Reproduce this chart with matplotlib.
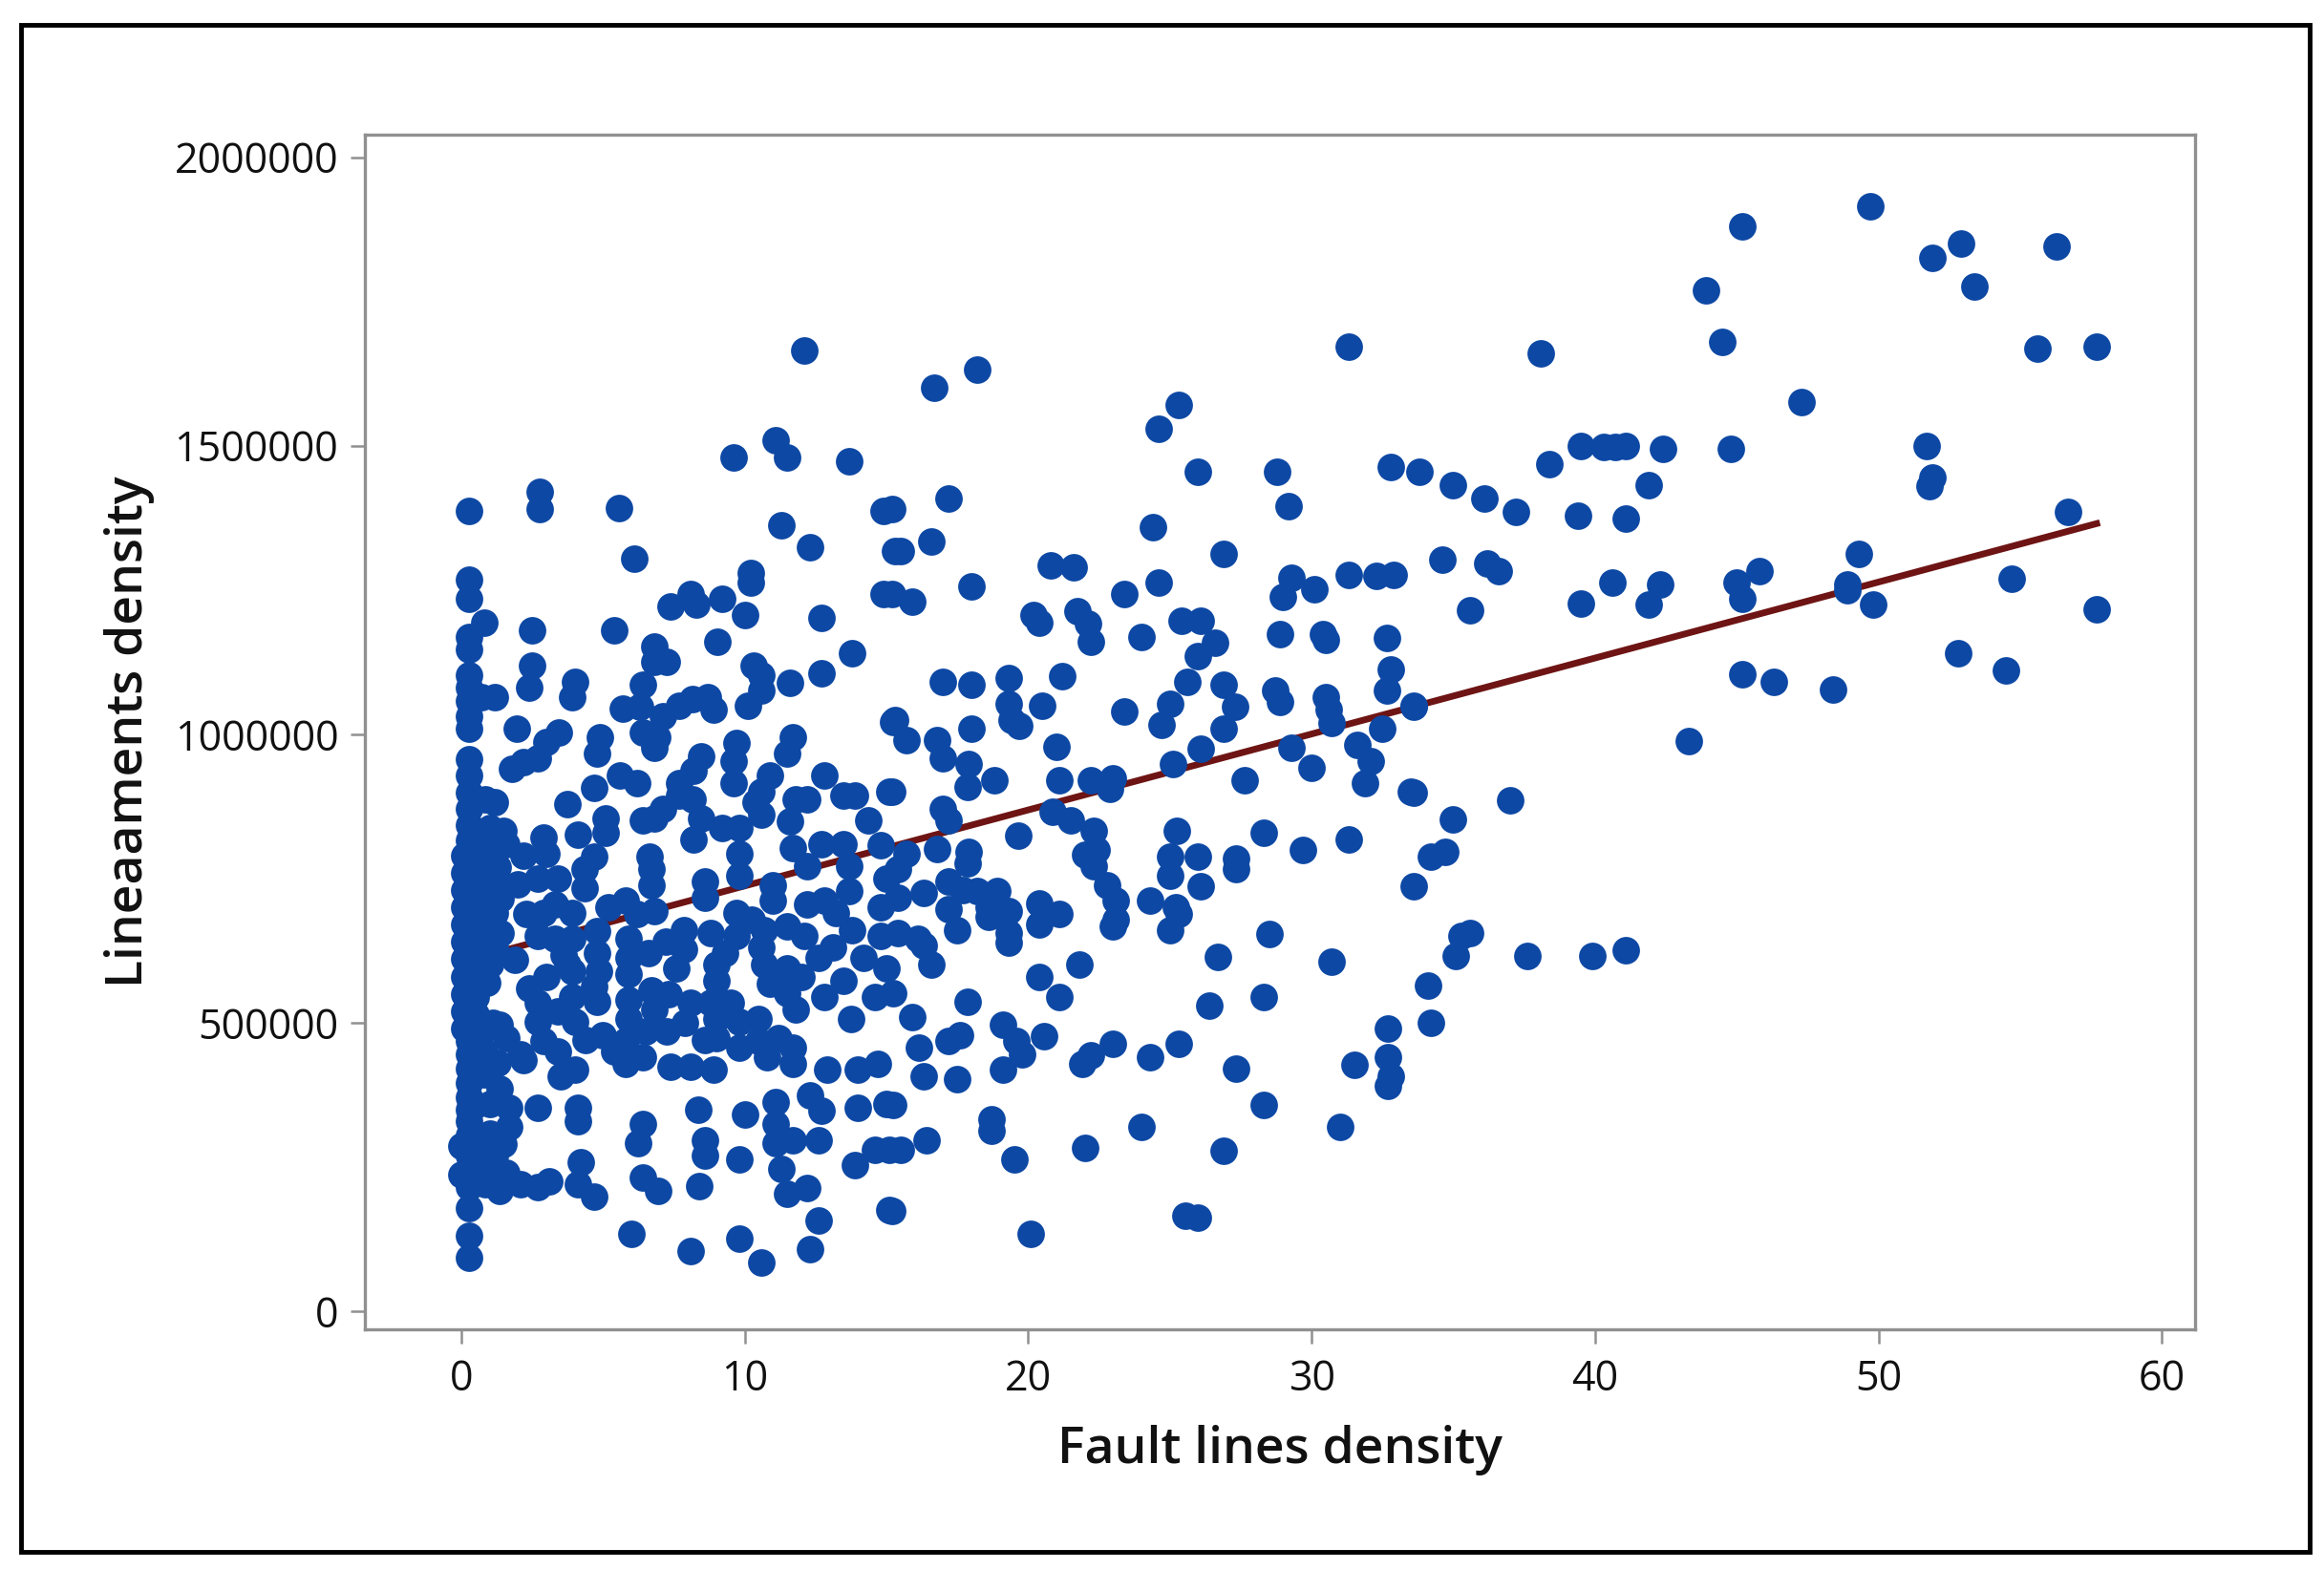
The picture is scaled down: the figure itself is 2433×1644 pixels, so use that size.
import matplotlib
matplotlib.use('Agg')
import matplotlib.pyplot as plt
from matplotlib.patches import Rectangle
import numpy as np

# точки читались з картинки: (fault lines density, lineaments density / 1000)
sparse_top = [
    (49.7, 1915), (45.2, 1880), (51.9, 1825), (52.9, 1850), (53.4, 1776), (56.3, 1845), (43.9, 1770),
    (44.5, 1680), (55.6, 1668), (57.7, 1672), (47.3, 1575), (51.7, 1500), (51.9, 1445), (51.8, 1430),
    (44.8, 1495), (42.4, 1495), (38.1, 1660), (31.3, 1672), (18.2, 1632), (16.7, 1600), (12.1, 1665),
    (25.3, 1570), (24.6, 1530), (11.1, 1510), (11.5, 1480), (9.6, 1480), (13.7, 1473), (38.4, 1468),
    (39.5, 1500), (40.3, 1498), (40.7, 1497), (41.1, 1500), (41.9, 1432), (41.1, 1373), (39.4, 1378),
    (32.8, 1463), (33.8, 1455), (35, 1432), (36.1, 1409), (37.2, 1386), (26, 1455), (28.8, 1455),
    (56.7, 1386), (49.3, 1312), (48.9, 1260), (48.9, 1250), (54.7, 1270), (49.8, 1224), (57.7, 1217),
    (45.8, 1283), (45, 1263), (45.2, 1235), (42.3, 1260), (41.9, 1224), (40.6, 1263), (39.5, 1227),
    (52.8, 1140), (54.5, 1111), (45.2, 1104), (46.3, 1091), (48.4, 1078), (43.3, 988), (34.6, 1302),
    (36.2, 1296), (36.6, 1283), (35.6, 1214),
]

sparse_right = [
    (35, 852), (34.2, 788), (34.7, 796), (33.6, 737), (37, 886), (35.3, 650), (35.6, 655), (35.1, 616),
    (37.6, 616), (39.9, 616), (41.1, 626), (34.1, 565), (34.2, 500), (33.6, 899), (33.6, 1047),
]

upper_left = [
    (0.26, 1387), (2.77, 1420), (2.77, 1390), (5.56, 1392), (14.9, 1387), (11.3, 1362), (12.3, 1324),
    (15.3, 1318), (6.1, 1304), (10.2, 1279), (10.2, 1263), (8.1, 1243), (7.4, 1221), (8.3, 1224),
    (9.2, 1235), (10, 1207), (0.26, 1268), (0.26, 1235), (0.8, 1194), (2.5, 1180), (5.4, 1180),
    (12.7, 1202), (14.9, 1243), (9.05, 1160), (13.8, 1141), (12.7, 1105), (6.8, 1152), (6.8, 1125),
    (7.25, 1125), (2.5, 1119), (10.3, 1119), (10.6, 1103), (11.6, 1089), (2.4, 1080), (4, 1091),
    (3.9, 1064), (6.4, 1086), (10.6, 1075), (10.1, 1050), (0.26, 1169), (0.26, 1147), (0.26, 1103),
    (0.26, 1081), (0.26, 1058), (0.7, 1064), (1.2, 1064), (0.26, 1031), (0.26, 1009), (5.7, 1045),
    (6.3, 1047), (7.1, 1031), (7.7, 1050), (8.15, 1061), (8.7, 1064), (8.9, 1042), (1.95, 1009),
    (15.25, 1022), (3.45, 1003), (3, 987), (4.9, 995), (4.8, 967), (6.4, 1003), (6.9, 995), (6.8, 976),
    (9.7, 984), (11.7, 995), (11.5, 967), (8.45, 962), (8.2, 937), (9.6, 953), (9.6, 915), (0.26, 956),
    (0.26, 929), (2.7, 959), (2.2, 951), (1.8, 940), (5.6, 929), (6.2, 915), (4.7, 907), (10.9, 929),
    (10.6, 901), (12.8, 929), (7.7, 915), (7.7, 893), (8.15, 887), (0.26, 898), (0.86, 887), (1.2, 882),
    (0.26, 871), (10.4, 882), (10.6, 860), (11.8, 887), (12.2, 887), (11.6, 849), (13.5, 893), (13.9, 893),
    (15.1, 901), (3.75, 879), (14.35, 851), (5.1, 854), (5.1, 829), (6.8, 854), (6.4, 851), (7.1, 871),
    (8.45, 854), (9.2, 837), (9.8, 837), (8.2, 818), (12.7, 810), (13.5, 810), (11.7, 802), (14.8, 807),
    (0.26, 843), (0.26, 816), (1, 837), (1.5, 832), (0.9, 810), (1.6, 810), (2.9, 821), (4.1, 826),
    (4.7, 788), (6.65, 788), (3, 793), (9.8, 793),
]

left_column = [
    (0.1, 790), (0.5, 785), (1.0, 780), (1.3, 770), (0.1, 760), (0.6, 755), (1.2, 750), (0.1, 730),
    (0.5, 725), (1.1, 720), (1.4, 715), (0.1, 700), (0.6, 695), (1.2, 690), (0.1, 670), (0.5, 665),
    (1.0, 660), (1.4, 655), (0.1, 640), (0.6, 635), (1.2, 630), (0.1, 610), (0.5, 605), (1.0, 600),
    (0.1, 580), (0.6, 575), (0.9, 570), (0.1, 550), (0.5, 545), (0.1, 520), (0.5, 515), (0.1, 490),
    (0.6, 490), (1.1, 500), (1.35, 496), (0.26, 534), (0.26, 507), (0.75, 485), (1.6, 474), (2.1, 446),
    (0.26, 468), (0.5, 430), (0.26, 396), (1.35, 385), (0.5, 358), (1.7, 352), (0.26, 330), (1.7, 319),
    (1, 308), (0, 286), (0.4, 258), (1.1, 247), (0, 236), (0.86, 220), (0.26, 178), (0.26, 131), (0.26, 93),
    (0.26, 445), (0.26, 420), (0.26, 370), (0.26, 350), (0.26, 305), (0.26, 270), (0.26, 245), (0.26, 215),
    (0.8, 450), (0.8, 410), (1.3, 430), (1.0, 360), (1.5, 290), (0.8, 285), (1.2, 270), (1.6, 240), (2.7, 215),
]

lower_left = [
    (4.36, 766), (4.36, 733), (6.7, 766), (6.7, 739), (8.6, 744), (8.6, 717), (9.8, 755), (11, 739), (11, 711),
    (12.2, 772), (13.7, 728), (13.7, 772), (15, 750), (3.3, 705), (2.7, 750), (2.3, 689), (5.2, 700),
    (6.2, 689), (6.8, 694), (5.8, 711), (4.8, 659), (3.3, 645), (2.7, 650), (3.9, 645), (3.6, 617),
    (1.9, 609), (3, 579), (3.75, 600), (4.85, 590), (4.7, 562), (4.8, 537), (2.7, 534), (3.9, 545), (4, 501),
    (2.7, 501), (2.9, 468), (3.4, 451), (2.2, 435), (4, 418), (3.5, 407), (5.9, 645), (5.9, 612), (5.9, 584),
    (5.9, 540), (5.9, 507), (6.7, 556), (6.8, 523), (7.25, 485), (6.5, 485), (5, 479), (5.8, 468), (5.8, 429),
    (7.85, 661), (8.8, 656), (7.85, 628), (7.6, 595), (9, 601), (9, 573), (8.1, 534), (8.8, 534), (9.5, 534),
    (9, 507), (9.8, 501), (10.5, 507), (9, 474), (9.8, 457), (10.5, 468), (11.2, 474), (11.7, 457), (10.8, 440),
    (11.7, 429), (7.4, 424), (8.1, 424), (8.9, 418), (10.25, 678), (10.7, 661), (11.5, 667), (10.7, 601),
    (10.9, 567), (11.5, 595), (12, 579), (12.6, 612), (12.2, 705), (12.8, 711), (11.5, 551), (11.8, 523),
    (12.8, 545), (13.5, 573), (13.75, 507), (14.8, 650), (14.2, 612), (15, 595), (14.6, 545), (12.9, 418),
    (14, 418), (14.7, 429), (12.3, 374), (12.7, 347), (14, 352), (15, 360), (11.1, 363), (11.1, 325), (11.1, 291),
    (11.7, 297), (12.6, 297), (11.3, 247), (11.5, 203), (12.2, 214), (14.6, 280), (15.1, 280), (13.9, 253),
    (15.1, 176), (12.6, 157), (12.3, 107), (10.6, 85), (9.8, 126), (8.1, 104), (6, 134), (8.4, 217), (9.8, 264),
    (8.6, 297), (8.6, 269), (8.35, 349), (10, 341), (6.4, 325), (6.25, 291), (6.4, 231), (6.95, 209), (4.2, 258),
    (4.7, 198), (4.1, 220), (3.1, 225), (2.1, 220), (1.35, 209), (4.1, 352), (4.1, 330), (2.7, 352),
    (2.2, 790), (2.0, 740), (3.4, 750), (2.9, 690), (3.9, 690), (4.8, 620), (3.9, 590), (2.4, 560), (3.4, 520),
    (4.4, 470), (5.4, 450), (6.4, 440), (7.3, 550), (7.9, 500), (8.6, 470), (7.2, 640), (6.6, 620), (9.7, 650),
    (9.7, 690), (10.6, 630), (9.3, 620), (12.1, 650), (13.1, 630), (13.8, 660), (14.8, 700), (13.2, 690),
]

upper_mid = [
    (17.2, 1409), (15.2, 1390), (16.6, 1334), (15.5, 1318), (20.8, 1293), (21.6, 1290), (18, 1257), (15.9, 1230),
    (15.2, 1243), (20.2, 1207), (20.4, 1193), (21.75, 1213), (22.1, 1191), (22.2, 1160), (23.4, 1243), (24.6, 1263),
    (24.4, 1359), (26.9, 1312), (29.2, 1395), (29.3, 1271), (29, 1238), (30.1, 1252), (31.3, 1276), (32.3, 1274),
    (32.9, 1276), (24, 1169), (25.4, 1196), (26.1, 1196), (26.6, 1158), (26, 1136), (25.6, 1091), (26.9, 1086),
    (27.3, 1047), (26.9, 1009), (28.9, 1174), (30.4, 1174), (30.5, 1163), (32.65, 1166), (32.8, 1113), (32.65, 1075),
    (28.7, 1075), (28.9, 1056), (30.5, 1064), (30.6, 1042), (30.7, 1020), (29.3, 976), (30, 942), (31.6, 981),
    (32.1, 953), (31.9, 915), (32.5, 1009), (33.6, 1050), (33.5, 901), (27.65, 920), (26.1, 975), (25.1, 948),
    (25, 1053), (24.7, 1017), (23.4, 1039), (17, 1091), (18, 1086), (19.3, 1097), (21.2, 1100), (19.3, 1053),
    (19.4, 1025), (19.7, 1014), (20.5, 1050), (18, 1009), (21, 978), (21.1, 920), (22.2, 920), (23, 923), (22.9, 906),
    (15.3, 1025), (15.7, 989), (16.8, 989), (17, 959), (17.9, 948), (17.85, 909), (18.8, 920), (15.2, 901), (17, 871),
    (17.2, 851), (20.85, 865), (21.5, 851), (22.3, 832), (22.4, 799), (22, 791), (19.65, 824), (17.9, 796), (16.8, 801),
    (15.7, 793), (25.25, 832), (28.3, 829), (31.3, 818), (29.7, 799), (25, 788), (26, 788), (27.35, 785),
]

lower_mid = [
    (15.4, 766), (17.85, 777), (17.2, 744), (17.7, 730), (16.3, 725), (15.4, 717), (18.2, 728), (18.9, 728), (17.2, 697),
    (18.6, 700), (19.3, 694), (18.6, 683), (17.5, 661), (19.3, 656), (19.3, 639), (20.4, 706), (21.1, 689), (20.4, 670),
    (22.3, 772), (22.8, 739), (23.1, 711), (23.1, 678), (23, 667), (25, 755), (24.3, 711), (26.1, 736), (27.35, 766),
    (25.3, 689), (25.2, 700), (25, 661), (28.5, 653), (15.4, 656), (16.1, 645), (16.3, 634), (16.6, 601), (15.25, 551),
    (15.9, 509), (16.15, 457), (17.2, 468), (17.6, 479), (16.3, 407), (17.5, 402), (17.85, 537), (20.4, 579), (21.1, 545),
    (21.8, 601), (19.1, 496), (19.6, 468), (19.8, 446), (19.1, 418), (20.55, 476), (21.9, 429), (22.2, 443), (23, 463),
    (24.3, 441), (25.3, 463), (26.7, 614), (26.4, 529), (28.3, 545), (30.7, 606), (27.35, 421), (28.3, 358), (31.5, 427),
    (32.7, 490), (32.7, 441), (32.8, 407), (32.7, 391), (31, 319), (24, 319), (22, 283), (26.9, 278), (18.7, 333),
    (18.7, 313), (19.5, 264), (16.4, 297), (15.5, 280), (15.25, 358), (15.2, 173), (20.1, 134), (25.55, 165), (26, 162),
]

# лінія регресії
fit_x = [0.2, 57.7]
fit_y = [608, 1365]

x_ticks = [0, 10, 20, 30, 40, 50, 60]
y_ticks = [0, 500000, 1000000, 1500000, 2000000]

groups = [sparse_top, sparse_right, upper_left, left_column, lower_left, upper_mid, lower_mid]
points = np.array([p for g in groups for p in g])

W, H = 2433, 1644
fig = plt.figure(figsize=(W / 100, H / 100), dpi=100)
fig.patch.set_facecolor('white')
ax = fig.add_axes([382 / W, 1 - 1392 / H, (2298 - 382) / W, (1392 - 141) / H])

# рамка навколо всього малюнка
fig.patches.append(Rectangle((22 / W, 1 - 1625 / H), (2418 - 22) / W, (1625 - 26) / H, transform=fig.transFigure,
                             fill=False, edgecolor='black', linewidth=3.5))

ax.plot(np.array(fit_x), np.array(fit_y) * 1000, color='#6e1414', linewidth=5, zorder=2)
ax.scatter(points[:, 0], points[:, 1] * 1000, s=430, color='#0d48a4', linewidths=0, zorder=3)

ax.set_xlim(-3.4, 61.17)
ax.set_ylim(-31400, 2039000)
ax.set_xticks(x_ticks)
ax.set_yticks(y_ticks)
ax.set_yticklabels([str(v) for v in y_ticks])
ax.tick_params(length=11, width=1.8, color='#909090', labelsize=31, labelcolor='#111111', pad=9)
ax.tick_params(axis='x', pad=11)
for label in ax.get_xticklabels() + ax.get_yticklabels():
    label.set_family('Open Sans')
for side in ax.spines.values():
    side.set_color('#909090')
    side.set_linewidth(2.4)

ax.set_xlabel('Fault lines density', fontsize=38.5, family='Open Sans', weight='semibold', color='#111111', labelpad=18)
ax.set_ylabel('Lineaaments density', fontsize=38.5, family='Open Sans', weight='semibold', color='#111111', labelpad=15)

fig.savefig('out.png', dpi=100)
